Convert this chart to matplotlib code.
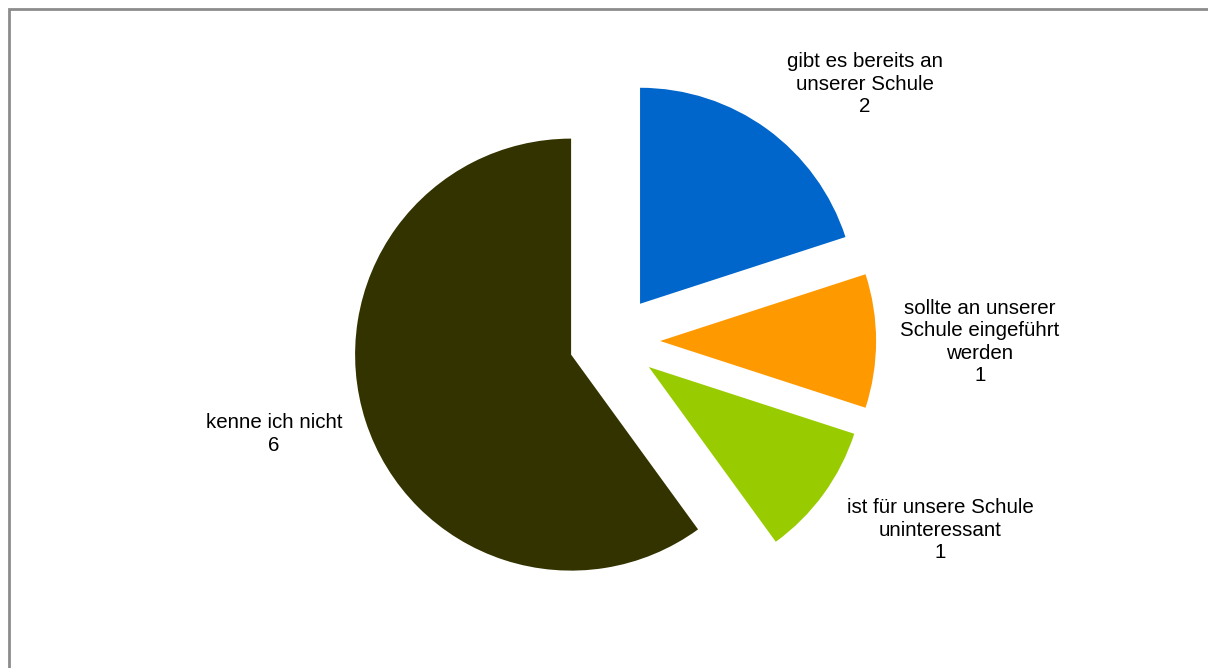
import matplotlib.pyplot as plt
from matplotlib.patches import Rectangle

# data
categories = ['gibt es bereits an\nunserer Schule', 'sollte an unserer\nSchule eingeführt\nwerden',
              'ist für unsere Schule\nuninteressant', 'kenne ich nicht']
values = [2, 1, 1, 6]
colors = ['#0066CC', '#FF9900', '#99CC00', '#333300']
explode_frac = [0.213, 0.218, 0.205, 0.204]

W, H = 1208, 668
R = 216
fig = plt.figure(figsize=(W / 100, H / 100), dpi=100)
ax = fig.add_axes([0, 0, 1, 1])

# chart border (only left/top visible in the crop)
fig.patches.append(Rectangle((8.5 / W, -0.1), 1.2, (H - 8.5) / H + 0.1, transform=fig.transFigure,
                             fill=False, edgecolor='#8c8c8c', linewidth=2))

# pie explode is in data units, so scale by radius
ax.pie(values, colors=colors, explode=[e * R for e in explode_frac], startangle=90,
       counterclock=False, radius=R, center=(613, H - 341), frame=True,
       wedgeprops=dict(linewidth=0))
ax.set_xlim(0, W)
ax.set_ylim(0, H)
ax.set_aspect('equal')
ax.axis('off')

label_pos = [(865, 84), (980, 342), (940, 530), (274, 434)]
for cat, v, (x, y) in zip(categories, values, label_pos):
    ax.text(x, H - y, f'{cat}\n{v}', ha='center', va='center', fontsize=14.8,
            family='Liberation Sans', linespacing=1.22, color='black')

fig.savefig('out.png', dpi=100)
